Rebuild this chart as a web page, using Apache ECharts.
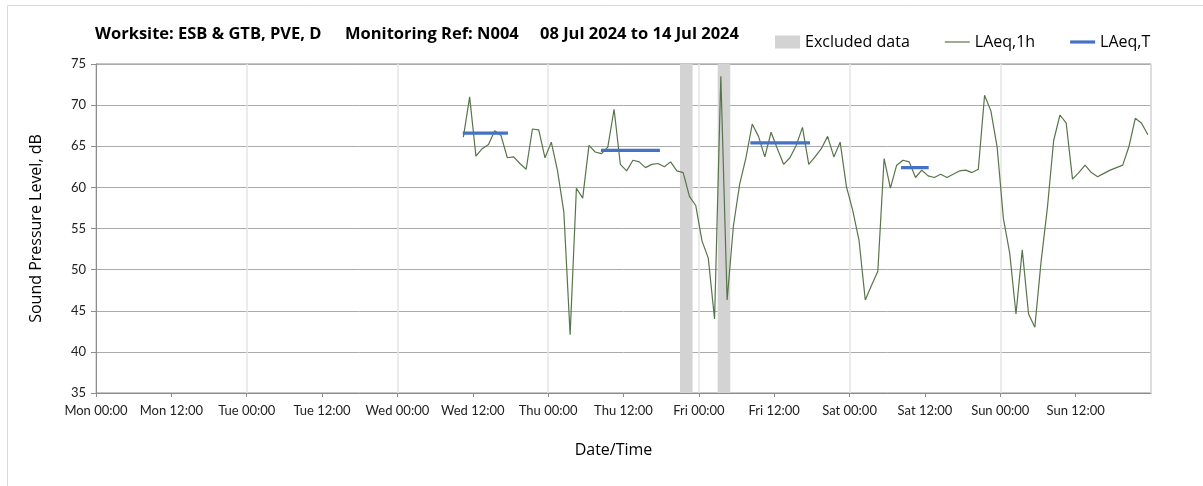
<!DOCTYPE html>
<html>
<head>
<meta charset="utf-8">
<script src="https://cdn.jsdelivr.net/npm/echarts@6/dist/echarts.min.js"></script>
<style>
html,body{margin:0;padding:0;background:#fff;}
#chart{width:1203px;height:486px;}
</style>
</head>
<body>
<div id="chart"></div>
<script>
// ---- data ----
const titleParts = ["Worksite: ESB & GTB, PVE, D", "Monitoring Ref: N004", "08 Jul 2024 to 14 Jul 2024"];
const dayNames = ["Mon", "Tue", "Wed", "Thu", "Fri", "Sat", "Sun"];
const hourLabels = ["00:00", "12:00"];
// hourly LAeq,1h: first value is the hour starting at 58 h after Mon 00:00 (Wed 10:00)
const firstHour = 58;
const laeq1h = [
  66.1, 71.0, 63.8, 64.7, 65.2, 66.9, 66.3, 63.6, 63.7, 62.9,
  62.2, 67.1, 67.0, 63.6, 65.5, 62.0, 57.0, 42.1, 59.9, 58.7,
  65.1, 64.3, 64.1, 64.9, 69.5, 62.8, 62.0, 63.3, 63.1, 62.4,
  62.8, 62.9, 62.5, 63.1, 62.0, 61.8, 58.9, 57.8, 53.5, 51.4,
  44.0, 73.5, 46.3, 55.3, 60.4, 63.6, 67.7, 66.2, 63.7, 66.7,
  64.7, 62.8, 63.6, 65.1, 67.3, 62.8, 63.7, 64.7, 66.2, 63.7,
  65.5, 60.1, 57.2, 53.6, 46.3, 48.1, 49.8, 63.5, 59.9, 62.7,
  63.3, 63.1, 61.2, 62.1, 61.4, 61.2, 61.6, 61.2, 61.6, 62.0,
  62.1, 61.8, 62.2, 71.2, 69.3, 64.9, 56.2, 52.0, 44.6, 52.4,
  44.6, 43.0, 51.0, 57.5, 65.7, 68.8, 67.8, 61.0, 61.8, 62.7,
  61.8, 61.3, 61.7, 62.1, 62.4, 62.7, 65.0, 68.4, 67.8, 66.4
];
// LAeq,T periods (hours after Mon 00:00)
const laeqTStart = [58.4, 80.4, 104.2, 128.2];
const laeqTEnd = [65.6, 89.8, 113.7, 132.6];
const laeqTValue = [66.6, 64.5, 65.4, 62.4];
// excluded data periods (hours after Mon 00:00)
const excludedStart = [93, 99];
const excludedEnd = [95, 101];

// ---- build series data ----
const lineData = laeq1h.map((v, i) => [firstHour + i + 0.5, v]);
const tData = [];
laeqTStart.forEach((s, i) => {
  if (i > 0) tData.push([s, '-']);
  tData.push([s, laeqTValue[i]]);
  tData.push([laeqTEnd[i], laeqTValue[i]]);
});
const bands = excludedStart.map((s, i) => [{xAxis: s}, {xAxis: excludedEnd[i]}]);

const GREEN = '#58744a', BLUE = '#4472c4', GREY = '#d3d3d3';
const FONT = 'Lato', FONT2 = 'Open Sans';
const chart = echarts.init(document.getElementById('chart'), null, {renderer: 'canvas'});
const titleStyle = {fontFamily: FONT2, fontSize: 16.5, fontWeight: 'bold', color: '#000'};
chart.setOption({
  animation: false,
  backgroundColor: '#ffffff',
  textStyle: {fontFamily: FONT},
  graphic: [{
    type: 'rect', left: 5, top: 3, z: -10, silent: true,
    shape: {width: 1400, height: 700},
    style: {fill: 'none', stroke: '#d9d9d9', lineWidth: 1}
  }],
  title: [
    {text: titleParts[0], left: 90, top: 21, textStyle: titleStyle},
    {text: titleParts[1], left: 340, top: 21, textStyle: titleStyle},
    {text: titleParts[2], left: 535, top: 21, textStyle: titleStyle}
  ],
  legend: {
    left: 770, top: 29, itemGap: 35, itemWidth: 25, itemHeight: 13,
    textStyle: {fontFamily: FONT2, fontSize: 16, color: '#000'},
    data: [
      {name: 'Excluded data', icon: 'rect', itemStyle: {color: GREY}},
      {name: 'LAeq,1h', icon: 'path://M0,0H25V1.2H0Z', itemStyle: {color: GREEN}},
      {name: 'LAeq,T', icon: 'path://M0,0H25V3.2H0Z', itemStyle: {color: BLUE}}
    ]
  },
  grid: {left: 96, right: 52, top: 64, bottom: 93, show: true, borderColor: '#8c8c8c', borderWidth: 1},
  xAxis: [{
    type: 'value', min: 0, max: 168, interval: 12,
    name: 'Date/Time', nameLocation: 'middle', nameGap: 49,
    nameTextStyle: {fontFamily: FONT2, fontSize: 16, color: '#000', padding: [0, 20, 0, 0]},
    axisLine: {show: true, lineStyle: {color: '#8c8c8c'}},
    axisTick: {show: true, length: 4, lineStyle: {color: '#8c8c8c'}},
    axisLabel: {
      showMaxLabel: false, fontFamily: FONT, fontSize: 13, color: '#222', margin: 11,
      formatter: v => dayNames[Math.floor(v / 24) % 7] + ' ' + hourLabels[(v % 24) / 12]
    },
    splitLine: {show: false}
  }, {
    type: 'value', min: 0, max: 168, interval: 24, position: 'bottom',
    axisLine: {show: false}, axisTick: {show: false}, axisLabel: {show: false},
    splitLine: {show: true, lineStyle: {color: '#e4e4e4', width: 1.5}}
  }],
  yAxis: {
    type: 'value', min: 35, max: 75, interval: 5,
    name: 'Sound Pressure Level, dB', nameLocation: 'middle', nameGap: 52,
    nameTextStyle: {fontFamily: FONT2, fontSize: 16, color: '#000'},
    axisLine: {show: true, lineStyle: {color: '#8c8c8c'}},
    axisTick: {show: true, length: 5, lineStyle: {color: '#8c8c8c'}},
    axisLabel: {fontFamily: FONT, fontSize: 13, color: '#222', margin: 10},
    splitLine: {show: true, lineStyle: {color: '#ababab', width: 1}}
  },
  series: [{
    name: 'Excluded data', type: 'line', data: [], symbol: 'none',
    itemStyle: {color: GREY}, lineStyle: {color: GREY},
    markArea: {silent: true, itemStyle: {color: GREY}, data: bands}
  }, {
    name: 'LAeq,1h', type: 'line', data: lineData, symbol: 'none',
    itemStyle: {color: GREEN}, lineStyle: {color: GREEN, width: 1.2}, z: 3
  }, {
    name: 'LAeq,T', type: 'line', data: tData, symbol: 'none', connectNulls: false,
    itemStyle: {color: BLUE}, lineStyle: {color: BLUE, width: 3.2}, z: 4
  }]
});
</script>
</body>
</html>
